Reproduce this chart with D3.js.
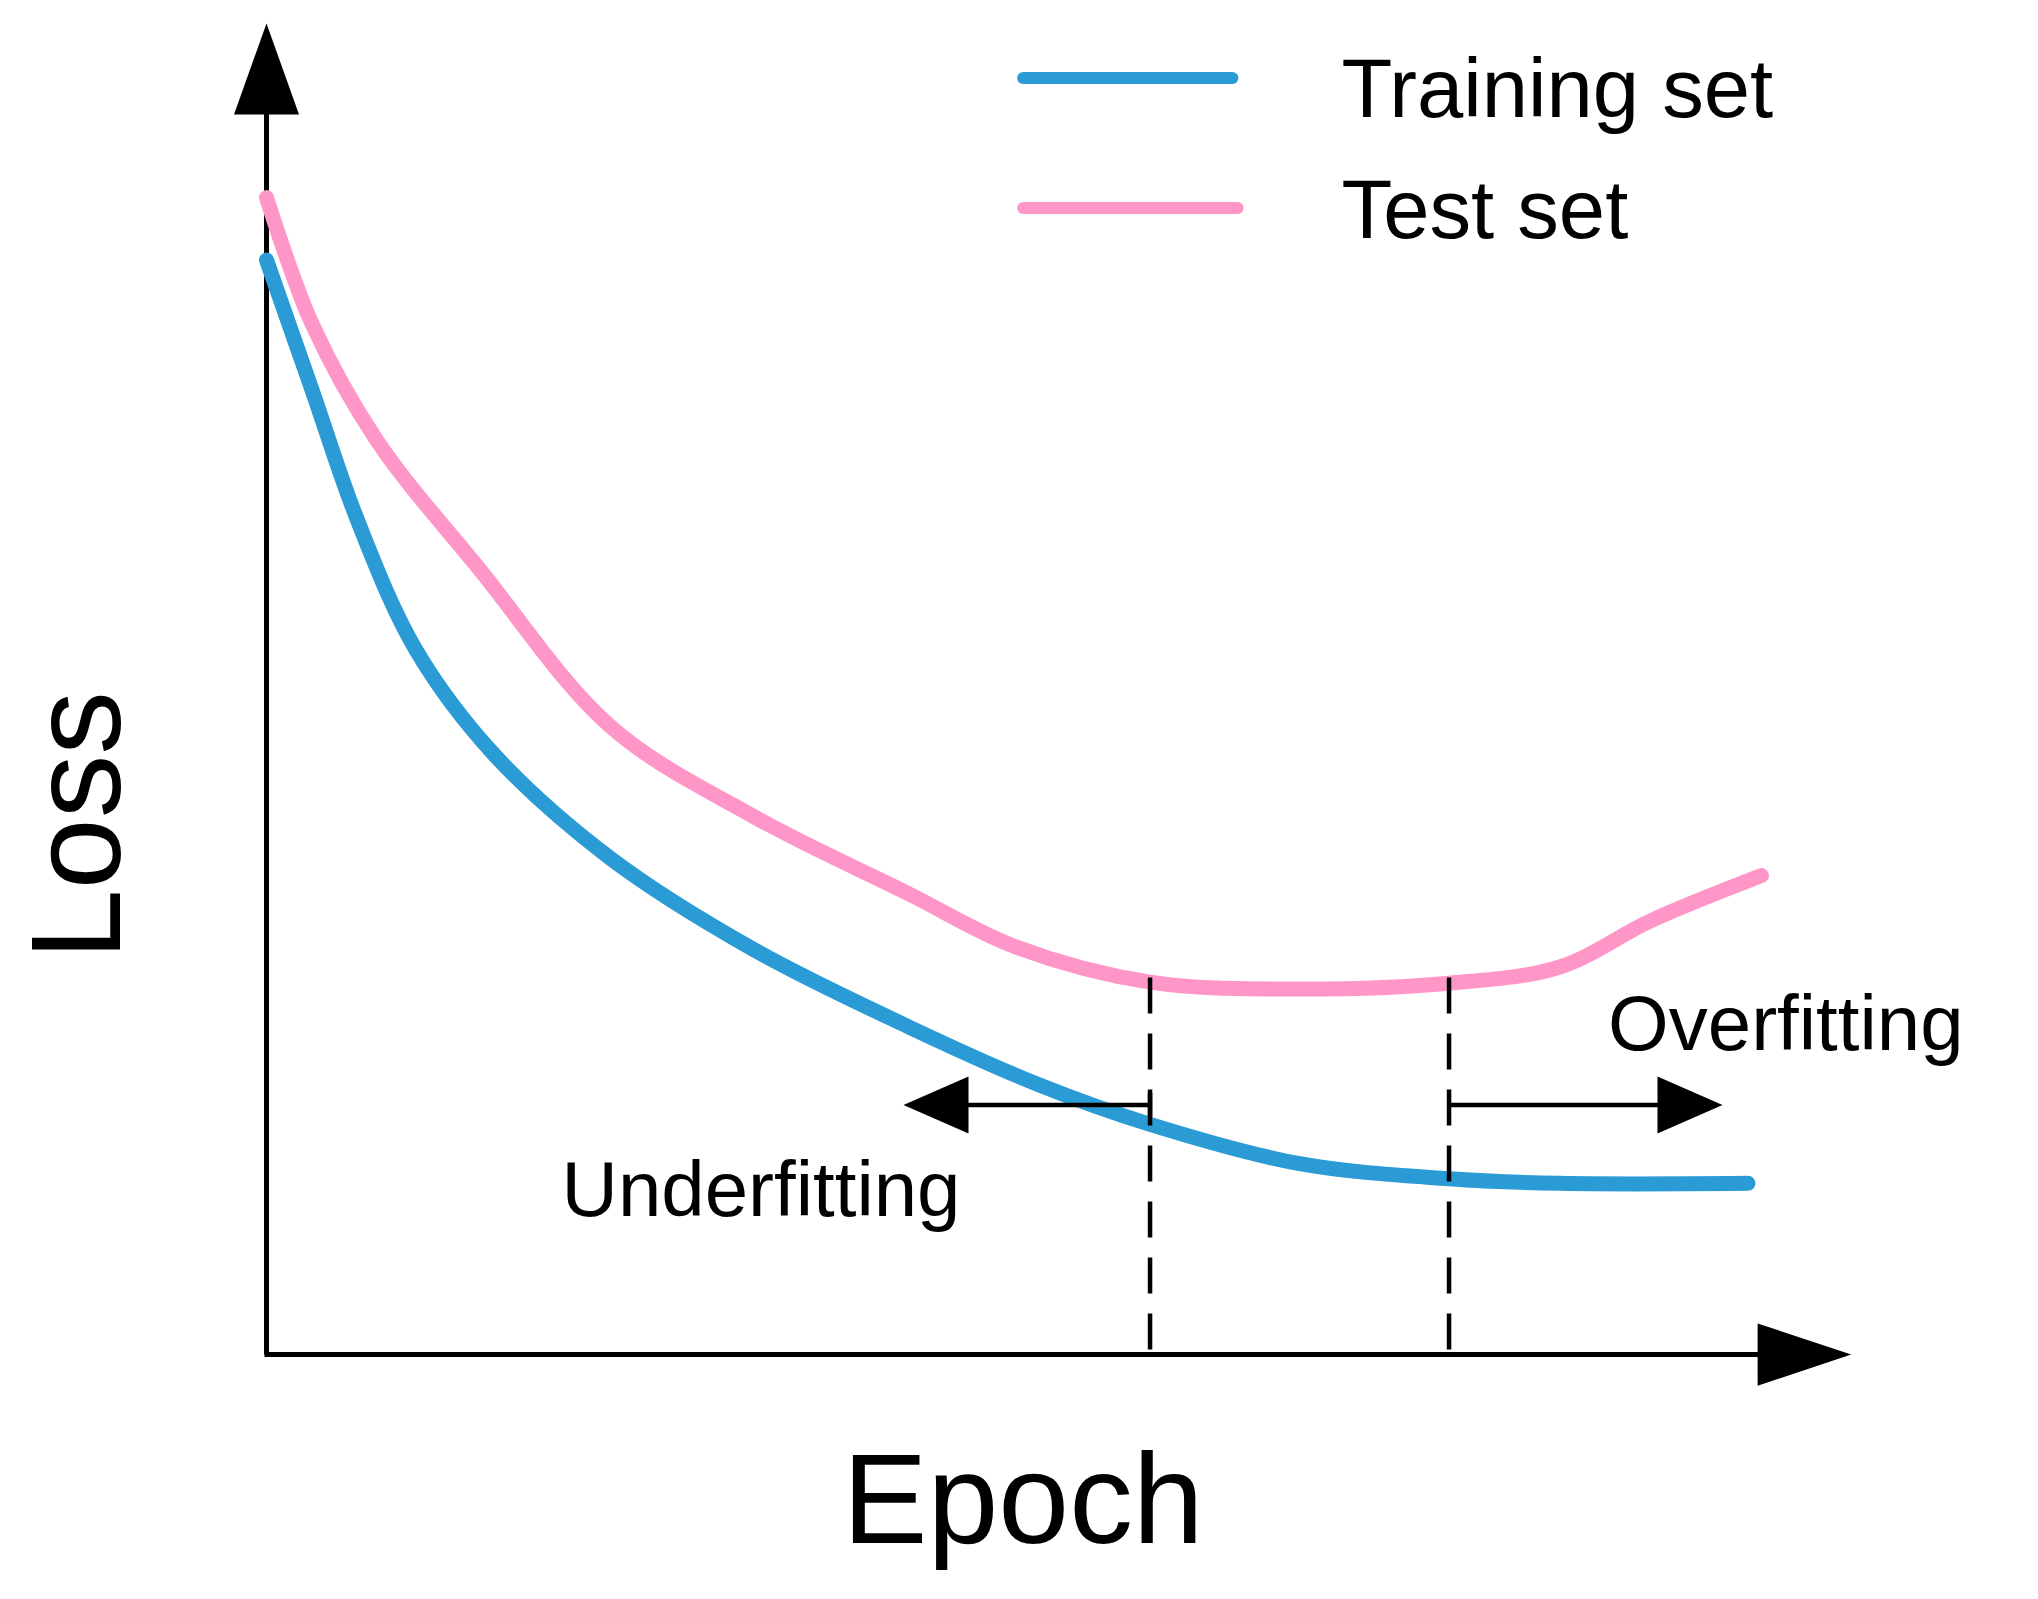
<!DOCTYPE html>
<html><head><meta charset="utf-8">
<script src="https://cdn.jsdelivr.net/npm/d3@7/dist/d3.min.js"></script>
<style>body{margin:0;background:#fff}</style></head>
<body><svg id="c" width="2038" height="1599"></svg>
<script>
const epochs = [0,3.04,6.09,10,15.2,23.0,32.6,43.0,51.7,59.1,69.1,79.1,86.5,99.1];
const trainLoss = [94.6,83.4,72.1,60.9,51.9,42.9,35.0,28.3,23.3,19.9,16.5,15.2,14.8,14.8];
const testEpochs = [0,3.04,7.39,14.3,23.0,32.6,43.0,50,59.1,69.1,79.1,86.5,92.6,100];
const testLoss = [100,89.1,79.0,67.8,54.3,46.5,39.8,35.3,32.2,31.6,32.1,33.5,37.5,41.4];
const boundaries = [59.1,79.1];
const labels = {train:"Training set", test:"Test set", x:"Epoch", y:"Loss", under:"Underfitting", over:"Overfitting"};

const S = 1.3;
const svg = d3.select("#c");
const font = "Arial, 'Liberation Sans', sans-serif";
const x = d3.scaleLinear().domain([0,100]).range([205*S,1355*S]);
const y = d3.scaleLinear().domain([0,100]).range([1042*S,152*S]);
const blue = "#2b9bd6", pink = "#ff96c8";

// axes
svg.append("line").attr("x1",x(0)).attr("y1",y(0)).attr("x2",x(0)).attr("y2",60*S).attr("stroke","#000").attr("stroke-width",5);
svg.append("path").attr("d",`M${x(0)},${18*S} L${x(0)-25*S},${88*S} L${x(0)+25*S},${88*S} Z`).attr("fill","#000");
svg.append("line").attr("x1",x(0)-2).attr("y1",y(0)).attr("x2",1360*S).attr("y2",y(0)).attr("stroke","#000").attr("stroke-width",5);
svg.append("path").attr("d",`M${1424*S},${y(0)} L${1352*S},${y(0)-24*S} L${1352*S},${y(0)+24*S} Z`).attr("fill","#000");

const line = d3.line().x(d=>x(d[0])).y(d=>y(d[1])).curve(d3.curveCatmullRom);
svg.append("path").datum(testEpochs.map((e,i)=>[e,testLoss[i]])).attr("d",line)
  .attr("fill","none").attr("stroke",pink).attr("stroke-width",15).attr("stroke-linecap","round");
svg.append("path").datum(epochs.map((e,i)=>[e,trainLoss[i]])).attr("d",line)
  .attr("fill","none").attr("stroke",blue).attr("stroke-width",15).attr("stroke-linecap","round");

// dashed boundaries
boundaries.forEach(b=>{
  svg.append("line").attr("x1",x(b)).attr("x2",x(b)).attr("y1",752*S).attr("y2",y(0))
    .attr("stroke","#000").attr("stroke-width",4.5).attr("stroke-dasharray","36,20");
});
// arrows
const ay = 850*S;
svg.append("line").attr("x1",x(boundaries[0])).attr("x2",740*S).attr("y1",ay).attr("y2",ay).attr("stroke","#000").attr("stroke-width",4.5);
svg.append("path").attr("d",`M${695*S},${ay} L${745*S},${ay-22*S} L${745*S},${ay+22*S} Z`).attr("fill","#000");
svg.append("line").attr("x1",x(boundaries[0])).attr("x2",x(boundaries[0])).attr("y1",ay-12).attr("y2",ay+12).attr("stroke","#000").attr("stroke-width",4.5);
svg.append("line").attr("x1",x(boundaries[1])).attr("x2",1280*S).attr("y1",ay).attr("y2",ay).attr("stroke","#000").attr("stroke-width",4.5);
svg.append("path").attr("d",`M${1325*S},${ay} L${1275*S},${ay-22*S} L${1275*S},${ay+22*S} Z`).attr("fill","#000");

svg.append("text").attr("x",432*S).attr("y",935*S).attr("font-family",font).attr("font-size",60*S).text(labels.under);
svg.append("text").attr("x",1237*S).attr("y",808*S).attr("font-family",font).attr("font-size",60*S).text(labels.over);

// legend
svg.append("line").attr("x1",787*S).attr("x2",948*S).attr("y1",60*S).attr("y2",60*S).attr("stroke",blue).attr("stroke-width",12).attr("stroke-linecap","round");
svg.append("line").attr("x1",787*S).attr("x2",952*S).attr("y1",160*S).attr("y2",160*S).attr("stroke",pink).attr("stroke-width",12).attr("stroke-linecap","round");
svg.append("text").attr("x",1032*S).attr("y",90*S).attr("font-family",font).attr("font-size",64*S).text(labels.train);
svg.append("text").attr("x",1032*S).attr("y",183*S).attr("font-family",font).attr("font-size",64*S).text(labels.test);

svg.append("text").attr("x",787*S).attr("y",1187*S).attr("text-anchor","middle").attr("font-family",font).attr("font-size",98*S).text(labels.x);
svg.append("text").attr("transform",`translate(${92*S},${635*S}) rotate(-90)`).attr("text-anchor","middle").attr("font-family",font).attr("font-size",98*S).text(labels.y);
</script></body></html>
